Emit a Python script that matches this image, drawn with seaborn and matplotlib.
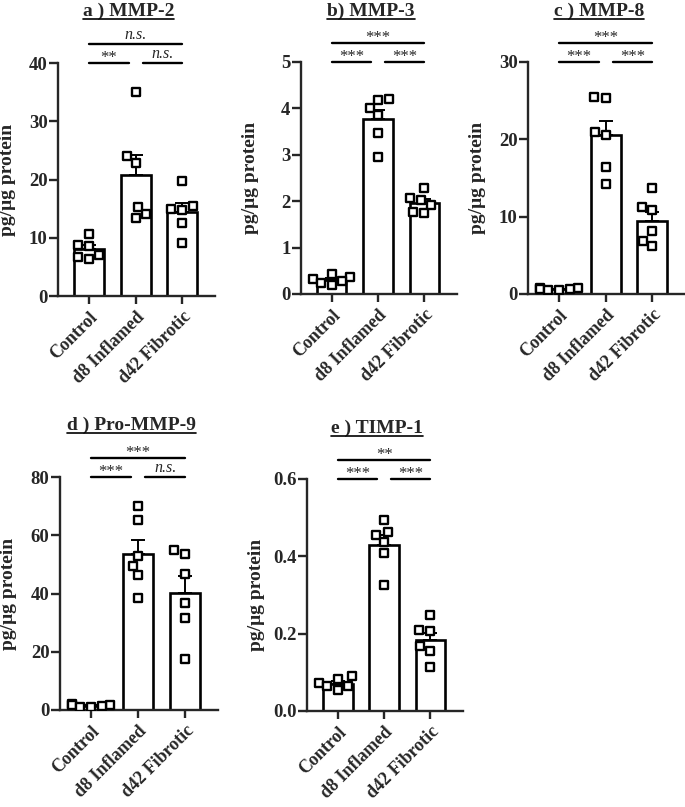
import numpy as np
import pandas as pd
import matplotlib
matplotlib.use('Agg')
import matplotlib.pyplot as plt
from matplotlib.lines import Line2D
from matplotlib.ticker import FormatStrFormatter
import seaborn as sns

groups = ['Control', 'd8 Inflamed', 'd42 Fibrotic']

# values (pg/ug protein), 6 animals per group
mmp2_control = [10.7, 8.8, 8.6, 7.0, 6.7, 6.3]
mmp2_inflamed = [35.0, 24.1, 22.9, 15.2, 14.0, 13.4]
mmp2_fibrotic = [19.8, 15.5, 14.9, 14.8, 12.6, 9.1]

mmp3_control = [0.44, 0.37, 0.33, 0.28, 0.24, 0.19]
mmp3_inflamed = [4.20, 4.18, 4.00, 3.85, 3.46, 2.96]
mmp3_fibrotic = [2.29, 2.07, 2.02, 1.92, 1.76, 1.74]

mmp8_control = [0.8, 0.75, 0.65, 0.6, 0.55, 0.5]
mmp8_inflamed = [25.4, 25.5, 21.0, 20.6, 16.4, 14.2]
mmp8_fibrotic = [13.7, 11.2, 10.8, 8.1, 6.9, 6.2]

mmp9_control = [2.0, 1.8, 1.7, 1.5, 1.2, 1.0]
mmp9_inflamed = [69.9, 65.1, 52.9, 49.5, 46.3, 38.6]
mmp9_fibrotic = [54.9, 53.7, 46.6, 36.8, 31.7, 17.4]

timp1_control = [0.090, 0.083, 0.072, 0.064, 0.064, 0.053]
timp1_inflamed = [0.494, 0.462, 0.454, 0.436, 0.408, 0.326]
timp1_fibrotic = [0.247, 0.210, 0.206, 0.167, 0.155, 0.114]

titles = ['a ) MMP-2', 'b) MMP-3', 'c ) MMP-8', 'd ) Pro-MMP-9', 'e ) TIMP-1']
yticks_list = [[0, 10, 20, 30, 40], [0, 1, 2, 3, 4, 5], [0, 10, 20, 30],
               [0, 20, 40, 60, 80], [0.0, 0.2, 0.4, 0.6]]
# significance: (Control vs d8, d8 vs d42, Control vs d42)
sig_list = [['**', 'n.s.', 'n.s.'],
            ['***', '***', '***'],
            ['***', '***', '***'],
            ['***', 'n.s.', '***'],
            ['***', '***', '**']]

panel_data = [
    [mmp2_control, mmp2_inflamed, mmp2_fibrotic],
    [mmp3_control, mmp3_inflamed, mmp3_fibrotic],
    [mmp8_control, mmp8_inflamed, mmp8_fibrotic],
    [mmp9_control, mmp9_inflamed, mmp9_fibrotic],
    [timp1_control, timp1_inflamed, timp1_fibrotic],
]

sns.set_style('ticks')
plt.rcParams['font.family'] = ['Liberation Serif', 'DejaVu Serif']
plt.rcParams['font.weight'] = 'bold'
plt.rcParams['axes.linewidth'] = 1.7

fig = plt.figure(figsize=(6.85, 8.07), dpi=100)
rects = [[0.0847, 0.6332, 0.2292, 0.2887],
         [0.4394, 0.6357, 0.2277, 0.2875],
         [0.7708, 0.6357, 0.2292, 0.2875],
         [0.0876, 0.1202, 0.2307, 0.2887],
         [0.4482, 0.1190, 0.2277, 0.2875]]

title_texts = []
for i in range(5):
    ax = fig.add_axes(rects[i])
    vals = panel_data[i]
    df = pd.DataFrame({'group': np.repeat(groups, [len(v) for v in vals]),
                       'value': np.concatenate(vals)})

    sns.barplot(data=df, x='group', y='value', order=groups, errorbar=None,
                color='white', edgecolor='black', linewidth=1.9, width=0.64, ax=ax)
    means = [np.mean(v) for v in vals]
    sems = [np.std(v, ddof=1) / np.sqrt(len(v)) for v in vals]
    ax.errorbar(range(3), means, yerr=[np.zeros(3), sems], fmt='none',
                ecolor='black', elinewidth=1.4, capsize=5, capthick=1.4, zorder=1.5)
    sns.swarmplot(data=df, x='group', y='value', order=groups, marker='s', size=6,
                  color='white', edgecolor='black', linewidth=1.7, ax=ax, zorder=3)

    yt = yticks_list[i]
    ax.set_ylim(0, yt[-1])
    ax.set_yticks(yt)
    if i == 4:
        ax.yaxis.set_major_formatter(FormatStrFormatter('%.1f'))
    ax.set_xlim(-0.66, 2.7)
    sns.despine(ax=ax)
    ax.tick_params(axis='y', length=6.5, width=1.7, labelsize=13.5, pad=1)
    ax.tick_params(axis='x', length=6, width=1.7, labelsize=13, pad=3)
    ax.set_xticks(range(3))
    ax.set_xticklabels(groups, rotation=45, ha='right', rotation_mode='anchor',
                       fontweight='bold')
    ax.set_xlabel('')
    ax.set_ylabel('pg/μg protein', fontsize=14, fontweight='bold')
    ax.yaxis.set_label_coords(-0.27, 0.5)

    # significance brackets above the plot
    trans = ax.get_xaxis_transform()
    sig = sig_list[i]
    spans = [(0, 0.85, 1.0), (1.15, 2, 1.0), (0, 2, 1.08)]
    for (x0, x1, yy), s in zip(spans, sig):
        ax.plot([x0, x1], [yy, yy], color='black', lw=1.7, transform=trans,
                clip_on=False)
        if s == 'n.s.':
            ax.text((x0 + x1) / 2, yy + 0.005, s, transform=trans, ha='center',
                    va='bottom', fontsize=11.5, fontstyle='italic', fontweight='normal')
        else:
            ax.text((x0 + x1) / 2, yy - 0.012, s, transform=trans, ha='center',
                    va='bottom', fontsize=12, fontweight='normal')

    t = ax.text(0.45, 1.22, titles[i], transform=ax.transAxes, ha='center',
                va='center', fontsize=14, fontweight='bold')
    title_texts.append(t)

# underline the panel titles
fig.canvas.draw()
inv = fig.transFigure.inverted()
for t in title_texts:
    bb = t.get_window_extent()
    (fx0, fy0), (fx1, _) = inv.transform([(bb.x0, bb.y0 + 1), (bb.x1, bb.y0)])
    fig.add_artist(Line2D([fx0, fx1], [fy0, fy0], color='black', lw=1.2,
                          transform=fig.transFigure))

fig.savefig('out.png', dpi=100, facecolor='white')
